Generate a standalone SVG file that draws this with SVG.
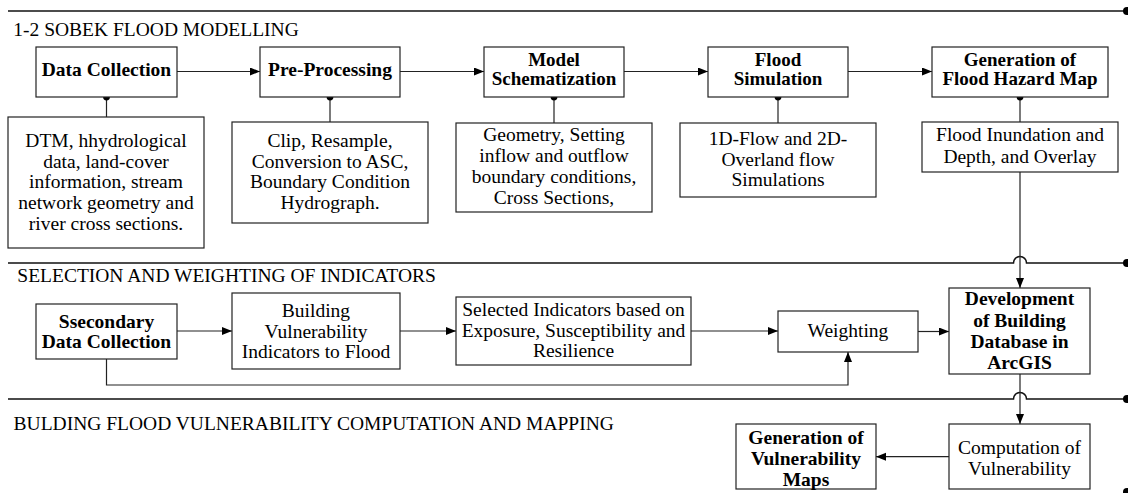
<svg xmlns="http://www.w3.org/2000/svg" width="1128" height="493" viewBox="0 0 1128 493">
<style>
text{font-family:"Liberation Serif","Times New Roman",serif;font-size:19.5px;fill:#000}
.b{font-weight:bold}
.c{text-anchor:middle}
.t2{font-size:19px}
.box{fill:#fff;stroke:#222;stroke-width:1.2}
.ln{fill:none;stroke:#222;stroke-width:1.2}
.dv{fill:none;stroke:#111;stroke-width:1.5}
.dot{fill:#000}
</style>
<defs>
<marker id="ah" markerWidth="11" markerHeight="9" refX="10" refY="4" orient="auto" markerUnits="userSpaceOnUse">
<path d="M0,0 L10,4 L0,8 z" fill="#000"/>
</marker>
</defs>

<g id="dividers">
<path class="dv" d="M8,11 H1127"/>
<circle class="dot" cx="1127" cy="11" r="4"/>
<path class="dv" d="M8,263 H1013.5 A6.5,6.5 0 0 1 1026.5,263 H1127"/>
<circle class="dot" cx="1127" cy="263" r="4"/>
<path class="dv" d="M8,399 H1013.5 A6.5,6.5 0 0 1 1026.5,399 H1127"/>
<circle class="dot" cx="1127" cy="399" r="4"/>
<circle class="dot" cx="1127" cy="492" r="4"/>
</g>

<g id="titles">
<text x="13.3" y="36">1-2 SOBEK FLOOD MODELLING</text>
<text x="17.3" y="282.3">SELECTION AND WEIGHTING OF INDICATORS</text>
<text x="13.6" y="430">BULDING FLOOD VULNERABILITY COMPUTATION AND MAPPING</text>
</g>

<g id="connectors">
<path class="ln" d="M177,71.5 H260" marker-end="url(#ah)"/>
<path class="ln" d="M400,71.5 H484" marker-end="url(#ah)"/>
<path class="ln" d="M624,71.5 H708" marker-end="url(#ah)"/>
<path class="ln" d="M848,71.5 H932" marker-end="url(#ah)"/>
<path class="ln" d="M106.5,97 V117"/>
<path class="ln" d="M330,97 V122"/>
<path class="ln" d="M554,97 V123"/>
<path class="ln" d="M778,97 V123"/>
<path class="ln" d="M1020,97 V122"/>
<circle class="dot" cx="106.5" cy="97" r="3.4"/>
<circle class="dot" cx="330" cy="97" r="3.4"/>
<circle class="dot" cx="554" cy="97" r="3.4"/>
<circle class="dot" cx="778" cy="97" r="3.4"/>
<circle class="dot" cx="1020" cy="97" r="3.4"/>
<path class="ln" d="M1020,172 V288" marker-end="url(#ah)"/>
<path class="ln" d="M177,331 H232" marker-end="url(#ah)"/>
<path class="ln" d="M400,331 H456" marker-end="url(#ah)"/>
<path class="ln" d="M691,331 H778" marker-end="url(#ah)"/>
<path class="ln" d="M918,331.5 H949" marker-end="url(#ah)"/>
<path class="ln" d="M106.5,359 V385 H848 V352" marker-end="url(#ah)"/>
<path class="ln" d="M1020,374 V424" marker-end="url(#ah)"/>
<path class="ln" d="M949,456.7 H876" marker-end="url(#ah)"/>
</g>

<g id="data-collection">
<rect class="box" x="36" y="47" width="141" height="50"/>
<text class="b c" x="106.5" y="76">Data Collection</text>
</g>
<g id="data-collection-desc">
<rect class="box" x="8" y="117" width="196" height="131"/>
<text class="c" x="106" y="146.7">DTM, hhydrological</text>
<text class="c" x="106" y="167.7">data, land-cover</text>
<text class="c" x="106" y="188.3">information, stream</text>
<text class="c" x="106" y="209.3">network geometry and</text>
<text class="c" x="106" y="230">river cross sections.</text>
</g>

<g id="pre-processing">
<rect class="box" x="260" y="47" width="140" height="50"/>
<text class="b c" x="330" y="76">Pre-Processing</text>
</g>
<g id="pre-processing-desc">
<rect class="box" x="232" y="122" width="196" height="101"/>
<text class="c" x="330" y="146.7">Clip, Resample,</text>
<text class="c" x="330" y="167.7">Conversion to ASC,</text>
<text class="c" x="330" y="188.3">Boundary Condition</text>
<text class="c" x="330" y="209.3">Hydrograph.</text>
</g>

<g id="model-schematization">
<rect class="box" x="484" y="47" width="140" height="50"/>
<text class="b c t2" x="554" y="66">Model</text>
<text class="b c t2" x="554" y="85">Schematization</text>
</g>
<g id="model-schematization-desc">
<rect class="box" x="456" y="123" width="196" height="89"/>
<text class="c" x="554" y="141">Geometry, Setting</text>
<text class="c" x="554" y="162">inflow and outflow</text>
<text class="c" x="554" y="183">boundary conditions,</text>
<text class="c" x="554" y="204">Cross Sections,</text>
</g>

<g id="flood-simulation">
<rect class="box" x="708" y="47" width="140" height="50"/>
<text class="b c t2" x="778" y="66">Flood</text>
<text class="b c t2" x="778" y="85">Simulation</text>
</g>
<g id="flood-simulation-desc">
<rect class="box" x="680" y="123" width="196" height="74"/>
<text class="c" x="778" y="145.3">1D-Flow and 2D-</text>
<text class="c" x="778" y="165.5">Overland flow</text>
<text class="c" x="778" y="185.5">Simulations</text>
</g>

<g id="flood-hazard-map">
<rect class="box" x="932" y="47" width="176" height="50"/>
<text class="b c t2" x="1020" y="66">Generation of</text>
<text class="b c t2" x="1020" y="85">Flood Hazard Map</text>
</g>
<g id="flood-hazard-map-desc">
<rect class="box" x="922" y="122" width="196" height="50"/>
<text class="c" x="1020" y="141">Flood Inundation and</text>
<text class="c" x="1020" y="162.5">Depth, and Overlay</text>
</g>

<g id="secondary-data">
<rect class="box" x="36" y="304" width="141" height="55"/>
<text class="b c" x="106.5" y="327.7">Ssecondary</text>
<text class="b c" x="106.5" y="347.7">Data Collection</text>
</g>

<g id="building-indicators">
<rect class="box" x="232" y="293" width="168" height="76"/>
<text class="c" x="316" y="316.7">Building</text>
<text class="c" x="316" y="337.7">Vulnerability</text>
<text class="c" x="316" y="358.3">Indicators to Flood</text>
</g>

<g id="selected-indicators">
<rect class="box" x="456" y="297" width="235" height="68"/>
<text class="c" x="573.5" y="316">Selected Indicators based on</text>
<text class="c" x="573.5" y="336.7">Exposure, Susceptibility and</text>
<text class="c" x="573.5" y="357.3">Resilience</text>
</g>

<g id="weighting">
<rect class="box" x="778" y="311" width="140" height="41"/>
<text class="c" x="848" y="336.7">Weighting</text>
</g>

<g id="building-database">
<rect class="box" x="949" y="288" width="141" height="86"/>
<text class="b c" x="1019.5" y="305">Development</text>
<text class="b c" x="1019.5" y="326.5">of Building</text>
<text class="b c" x="1019.5" y="347.5">Database in</text>
<text class="b c" x="1019.5" y="368.5">ArcGIS</text>
</g>

<g id="computation">
<rect class="box" x="949" y="424" width="141" height="65"/>
<text class="c" x="1019.5" y="454.3">Computation of</text>
<text class="c" x="1019.5" y="475">Vulnerability</text>
</g>

<g id="vulnerability-maps">
<rect class="box" x="736" y="424" width="140" height="65"/>
<text class="b c" x="806" y="444">Generation of</text>
<text class="b c" x="806" y="465">Vulnerability</text>
<text class="b c" x="806" y="485.5">Maps</text>
</g>
</svg>
